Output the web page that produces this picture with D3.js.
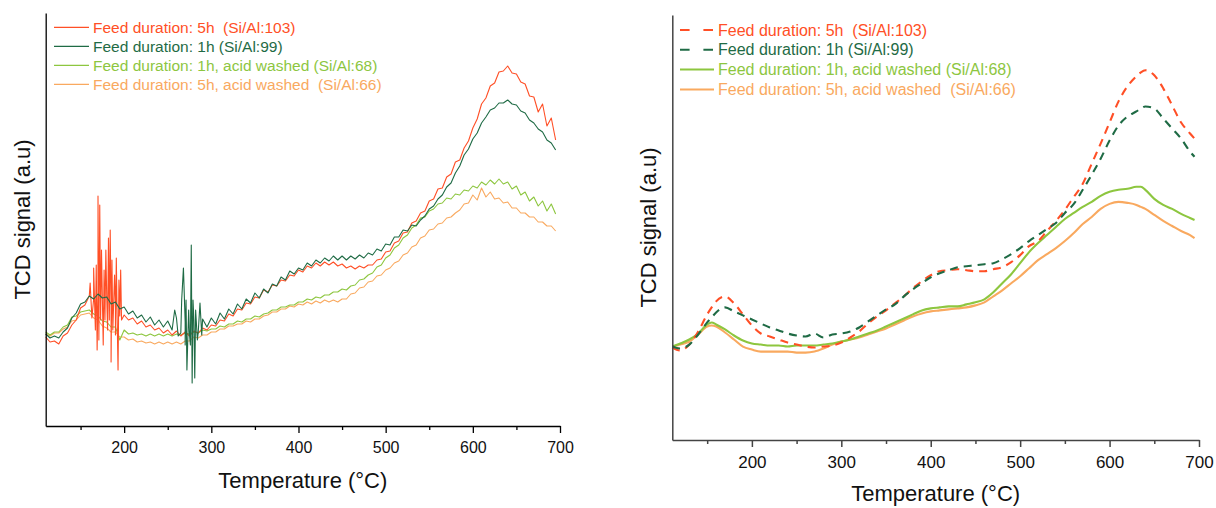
<!DOCTYPE html>
<html>
<head>
<meta charset="utf-8">
<script src="https://cdn.jsdelivr.net/npm/d3@7"></script>
<style>
  html, body { margin: 0; padding: 0; background: #fff; }
  svg { display: block; font-family: "Liberation Sans", Arial, Helvetica, sans-serif; }
</style>
</head>
<body>
<svg id="chart" width="1216" height="508"></svg>
<script>
// ---- Series labels and colours ----
const seriesLabels = [
  "Feed duration: 5h  (Si/Al:103)",
  "Feed duration: 1h (Si/Al:99)",
  "Feed duration: 1h, acid washed (Si/Al:68)",
  "Feed duration: 5h, acid washed  (Si/Al:66)"
];
const seriesColors = ["#FF4F26", "#1F6B45", "#8DC63F", "#F9A95F"];

// ---- Axis ticks (Temperature, °C) ----
const majorTicks = [200, 300, 400, 500, 600, 700];
const minorTicks = [150, 250, 350, 450, 550, 650];

// ---- Raw TCD traces (left panel), a.u., sampled every 5 °C from 110 to 695 °C ----
const rawTemps = d3.range(110, 700, 5);
const raw5h = [
  89, 84, 85, 82, 90, 93, 101, 106, 118, 121,
  130, 127, 132, 128, 130, 121, 119, 110, 111, 106,
  108, 102, 105, 99, 101, 96, 98, 93, 96, 91,
  95, 90, 94, 90, 95, 93, 98, 96, 101, 100,
  106, 105, 112, 110, 117, 116, 123, 122, 129, 128,
  136, 134, 141, 140, 146, 145, 151, 150, 156, 154,
  160, 158, 163, 160, 164, 161, 164, 160, 162, 158,
  160, 157, 160, 158, 161, 161, 166, 167, 174, 175,
  183, 185, 193, 194, 203, 205, 213, 215, 225, 227,
  237, 238, 249, 252, 264, 266, 278, 285, 298, 307,
  322, 328, 340, 343, 354, 355, 360, 353, 352, 344,
  342, 330, 329, 314, 322, 300, 308, 286
];
const raw1h = [
  92, 88, 90, 88, 94, 98, 108, 113, 122, 124,
  130, 127, 132, 128, 129, 122, 124, 117, 119, 112,
  115, 108, 111, 104, 109, 101, 106, 99, 105, 96,
  108, 93, 104, 91, 106, 94, 107, 99, 108, 102,
  113, 107, 117, 112, 122, 117, 127, 123, 133, 128,
  137, 133, 142, 140, 149, 146, 155, 152, 158, 156,
  163, 160, 166, 163, 168, 165, 170, 166, 170, 166,
  170, 167, 171, 168, 173, 171, 177, 175, 182, 181,
  189, 189, 196, 195, 201, 200, 206, 210, 217, 220,
  227, 231, 239, 243, 253, 260, 271, 277, 287, 293,
  303, 309, 316, 318, 323, 323, 326, 322, 321, 315,
  313, 306, 303, 297, 294, 286, 283, 276
];
const raw1hWashed = [
  94, 91, 94, 94, 99, 101, 109, 110, 114, 115,
  116, 112, 110, 105, 104, 99, 99, 86, 96, 92,
  93, 91, 92, 90, 92, 90, 92, 90, 92, 90,
  92, 91, 93, 92, 94, 93, 96, 95, 97, 97,
  100, 99, 102, 102, 105, 104, 107, 107, 110, 109,
  112, 113, 116, 116, 119, 119, 121, 121, 124, 124,
  127, 126, 129, 128, 131, 131, 134, 134, 137, 136,
  140, 141, 146, 147, 151, 153, 159, 161, 168, 171,
  178, 181, 188, 191, 198, 201, 208, 209, 215, 217,
  222, 223, 228, 227, 232, 231, 236, 235, 240, 238,
  244, 241, 246, 242, 247, 242, 244, 237, 240, 231,
  234, 225, 229, 220, 225, 215, 222, 212
];
const raw5hWashed = [
  92, 90, 93, 93, 97, 99, 105, 106, 111, 112,
  113, 108, 106, 100, 98, 94, 94, 89, 89, 86,
  87, 84, 85, 83, 84, 82, 84, 82, 84, 82,
  84, 82, 85, 85, 89, 88, 91, 91, 94, 94,
  97, 97, 100, 100, 102, 102, 105, 104, 107, 107,
  110, 111, 114, 114, 117, 117, 120, 119, 122, 121,
  124, 122, 125, 123, 126, 124, 126, 124, 127, 127,
  132, 133, 138, 139, 144, 145, 150, 151, 156, 158,
  163, 165, 171, 173, 179, 181, 188, 190, 196, 197,
  202, 203, 208, 209, 213, 216, 222, 223, 231, 226,
  238, 229, 234, 227, 228, 223, 224, 218, 218, 213,
  213, 209, 209, 204, 204, 200, 200, 195
];

// Detector spikes recorded between the regular samples
const spike5hTemps = [161, 163, 165, 167, 168, 169, 170, 171, 172, 173, 174, 176, 177, 178, 179,
  181, 182, 183, 184, 185, 186, 187, 189, 190, 191, 192, 193, 194, 196, 197];
const spike5hValues = [143, 108, 158, 96, 161, 76, 230, 86, 221, 106, 176, 81, 156, 106, 176,
  96, 188, 106, 196, 64, 166, 96, 151, 91, 168, 106, 56, 146, 156, 106];
const spike1hTemps = [258, 262, 266, 268, 270, 271, 272, 274, 276, 277, 278, 279, 281, 282, 284, 287, 289];
const spike1hValues = [116, 90, 126, 158, 81, 126, 56, 116, 81, 181, 43, 126, 48, 116, 86, 123, 91];

// ---- Smoothed traces (right panel), a.u. ----
const smoothTemps = [111, 120, 130, 140, 150, 155, 160, 170, 180, 190, 200, 210, 220, 230, 240,
  250, 260, 270, 280, 290, 300, 310, 320, 330, 340, 350, 360, 370, 380, 390, 400, 410, 420,
  430, 440, 450, 460, 470, 480, 490, 500, 510, 520, 530, 540, 550, 560, 570, 580, 590, 600,
  610, 620, 630, 635, 640, 650, 660, 670, 680, 690, 695];
const smooth5h = [92, 89, 95, 108, 125, 132, 138, 143, 136, 125, 114, 106, 103, 100, 97,
  95, 93, 92, 93, 94, 97, 102, 108, 116, 123, 129, 136, 143, 151, 158, 164, 168, 169,
  170, 169, 168, 168, 170, 172, 177, 184, 193, 198, 208, 218, 229, 242, 255, 275, 295, 316,
  337, 352, 362, 366, 368, 363, 350, 333, 316, 305, 300];
const smooth1h = [93, 91, 95, 105, 117, 122, 127, 132, 128, 124, 120, 116, 112, 109, 106,
  104, 103, 106, 102, 105, 106, 108, 112, 118, 124, 130, 135, 143, 150, 156, 162, 166, 169,
  172, 173, 174, 175, 176, 180, 185, 191, 198, 204, 210, 216, 226, 235, 249, 264, 280, 298,
  313, 322, 327, 330, 332, 330, 320, 310, 300, 287, 282];
const smooth1hWashed = [93, 96, 100, 106, 115, 117, 115, 110, 104, 99, 96, 95, 94, 94, 93,
  94, 94, 94, 95, 96, 98, 100, 103, 106, 109, 113, 117, 121, 125, 129, 131, 132, 133,
  133, 135, 137, 140, 147, 156, 165, 176, 187, 196, 204, 212, 220, 226, 232, 237, 243, 247,
  249, 250, 252, 252, 249, 240, 234, 230, 225, 221, 219];
const smooth5hWashed = [93, 95, 98, 105, 113, 114, 113, 107, 100, 93, 90, 88, 88, 88, 88,
  87, 87, 88, 91, 95, 98, 100, 102, 105, 108, 111, 115, 119, 123, 126, 128, 129, 130,
  131, 132, 134, 137, 143, 149, 156, 163, 171, 179, 185, 191, 198, 206, 215, 222, 230, 235,
  237, 236, 234, 232, 230, 224, 218, 213, 208, 204, 201];

// ---- Helpers ----
function toPoints(temps, values, extraTemps, extraValues) {
  const pts = temps.map((t, i) => [t, values[i]]);
  if (extraTemps) extraTemps.forEach((t, i) => pts.push([t, extraValues[i]]));
  pts.sort((a, b) => a[0] - b[0]);
  return pts;
}

const svg = d3.select("#chart");

function drawPanel(cfg) {
  const x = d3.scaleLinear().domain(cfg.xDomain).range([cfg.left, cfg.right]);
  const y = d3.scaleLinear().domain(cfg.yDomain).range([cfg.bottom, cfg.top]);
  const g = svg.append("g");

  const line = d3.line().x(d => x(d[0])).y(d => y(d[1])).curve(cfg.curve);

  // traces, back to front
  cfg.order.forEach(i => {
    const s = cfg.series[i];
    g.append("path")
      .datum(s)
      .attr("d", line)
      .attr("fill", "none")
      .attr("stroke", seriesColors[i])
      .attr("stroke-width", cfg.lineWidth)
      .attr("stroke-linejoin", "round")
      .attr("stroke-dasharray", cfg.dashed[i] ? cfg.dash : null);
  });

  // y axis: spine only
  const yAxis = g.append("g")
    .attr("transform", `translate(${cfg.left},0)`)
    .call(d3.axisLeft(y).tickValues([]).tickSizeOuter(0));
  yAxis.select(".domain").attr("stroke", cfg.axisColor).attr("stroke-width", cfg.axisWidth);

  // x axis: minor ticks
  const xMinor = g.append("g")
    .attr("transform", `translate(0,${cfg.bottom})`)
    .call(d3.axisBottom(x).tickValues(minorTicks).tickSize(4).tickSizeOuter(0).tickFormat(""));
  xMinor.select(".domain").remove();
  xMinor.selectAll(".tick line").attr("stroke", cfg.axisColor).attr("stroke-width", cfg.axisWidth);

  // x axis: major ticks and labels
  const xAxis = g.append("g")
    .attr("transform", `translate(0,${cfg.bottom})`)
    .call(d3.axisBottom(x).tickValues(majorTicks).tickSize(7).tickSizeOuter(0)
      .tickPadding(cfg.tickPadding).tickFormat(d3.format("d")));
  xAxis.attr("font-family", null).attr("font-size", null);
  xAxis.select(".domain").attr("stroke", cfg.axisColor).attr("stroke-width", cfg.axisWidth);
  xAxis.selectAll(".tick line").attr("stroke", cfg.axisColor).attr("stroke-width", cfg.axisWidth);
  xAxis.selectAll(".tick text").attr("fill", "#111").style("font-size", cfg.tickFont + "px");

  // axis titles
  g.append("text")
    .attr("x", (cfg.left + cfg.right) / 2)
    .attr("y", cfg.xTitleY)
    .attr("text-anchor", "middle")
    .style("font-size", "22px")
    .attr("fill", "#111")
    .text("Temperature (°C)");

  g.append("text")
    .attr("transform", `translate(${cfg.yTitleX},${(cfg.top + cfg.bottom) / 2}) rotate(-90)`)
    .attr("text-anchor", "middle")
    .attr("dominant-baseline", "central")
    .style("font-size", "22px")
    .attr("fill", "#111")
    .text("TCD signal (a.u)");

  // legend
  const lg = g.append("g");
  seriesLabels.forEach((label, i) => {
    const yy = cfg.legendY + i * cfg.legendStep;
    lg.append("line")
      .attr("x1", cfg.legendX).attr("x2", cfg.legendX + cfg.legendLen)
      .attr("y1", yy).attr("y2", yy)
      .attr("stroke", seriesColors[i])
      .attr("stroke-width", cfg.legendLineWidth)
      .attr("stroke-dasharray", cfg.dashed[i] ? cfg.legendDash : null);
    lg.append("text")
      .attr("x", cfg.legendX + cfg.legendLen + 4)
      .attr("y", yy)
      .attr("dominant-baseline", "central")
      .attr("fill", seriesColors[i])
      .style("font-size", cfg.legendFont + "px")
      .style("white-space", "pre")
      .text(label);
  });
}

// Left panel: raw detector signal
drawPanel({
  xDomain: [110, 700], yDomain: [0, 413],
  left: 45.7, right: 560, top: 13, bottom: 426,
  curve: d3.curveLinear,
  series: [
    toPoints(rawTemps, raw5h, spike5hTemps, spike5hValues),
    toPoints(rawTemps, raw1h, spike1hTemps, spike1hValues),
    toPoints(rawTemps, raw1hWashed),
    toPoints(rawTemps, raw5hWashed)
  ],
  order: [3, 2, 0, 1],
  dashed: [false, false, false, false],
  lineWidth: 1.1,
  axisColor: "#000", axisWidth: 1.3,
  tickPadding: 9, tickFont: 16,
  xTitleY: 488, yTitleX: 22,
  legendX: 54, legendY: 27.3, legendStep: 19, legendLen: 35,
  legendLineWidth: 1.2, legendFont: 15.5, legendDash: null
});

// Right panel: smoothed signal
drawPanel({
  xDomain: [111, 700], yDomain: [0, 423],
  left: 672.3, right: 1199, top: 15, bottom: 440,
  curve: d3.curveMonotoneX,
  series: [
    toPoints(smoothTemps, smooth5h),
    toPoints(smoothTemps, smooth1h),
    toPoints(smoothTemps, smooth1hWashed),
    toPoints(smoothTemps, smooth5hWashed)
  ],
  order: [3, 2, 0, 1],
  dashed: [true, true, false, false],
  dash: "8,6",
  lineWidth: 2.1,
  axisColor: "#444", axisWidth: 1.5,
  tickPadding: 9, tickFont: 17,
  xTitleY: 501, yTitleX: 648.5,
  legendX: 680, legendY: 30, legendStep: 19.8, legendLen: 34,
  legendLineWidth: 2, legendFont: 16, legendDash: "9.6,13.8"
});
</script>
</body>
</html>
